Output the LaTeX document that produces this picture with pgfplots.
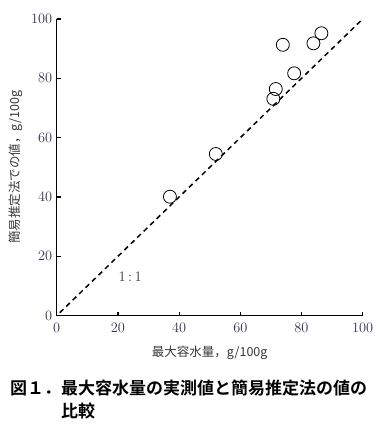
\documentclass[border=0pt]{standalone}
\usepackage{pgfplots}
\pgfplotsset{compat=1.18}
\usepackage{fontspec}
\newfontfamily\cjk{Noto Sans CJK JP}
\newfontfamily\cjkb{Noto Sans CJK JP}[BoldFont={* Bold}]
\definecolor{tickc}{rgb}{0.20,0.20,0.30}
\definecolor{labc}{rgb}{0.22,0.22,0.22}
\begin{document}
\begin{tikzpicture}
\begin{axis}[
  at={(0,0)}, anchor=origin,
  scale only axis, width=306bp, height=296.7bp,
  xmin=0, xmax=100, ymin=0, ymax=100,
  axis x line*=bottom, axis y line*=left,
  xtick={0,20,...,100}, ytick={0,20,...,100},
  tick align=inside, major tick length=4bp,
  axis line style={line width=1.5bp},
  tick style={line width=1.2bp, black},
  tick label style={font=\fontsize{14.5bp}{16bp}\selectfont, text=tickc},
  xticklabel style={yshift=-4bp},
  yticklabel style={xshift=-1bp},
  xlabel={\cjk 最大容水量，g/100g},
  ylabel={\cjk 簡易推定法での値，g/100g},
  label style={font=\fontsize{12.5bp}{14bp}\selectfont, text=labc},
  xlabel style={yshift=-7bp},
  ylabel style={yshift=2bp},
  clip=false,
]
\addplot[black, line width=1.5bp, dash pattern=on 5bp off 4bp] coordinates {(1,1) (99.5,99.5)};
\addplot[only marks, mark=o, mark size=6.5bp, mark options={line width=0.8bp, black, fill=white}] coordinates {
(37.0,40.1) (52.0,54.5) (70.8,73.1) (71.6,76.4) (77.6,81.7)
(73.9,91.3) (83.9,91.8) (86.5,95.2)
};
\node[font=\fontsize{14.5bp}{16bp}\selectfont, text=tickc] at (axis cs:24,13.2) {1\,:\,1};
\end{axis}
\node[anchor=west, font=\cjkb\bfseries\fontsize{17bp}{20bp}\selectfont, inner sep=0pt] at (-46.7bp,-72.5bp) {図１．最大容水量の実測値と簡易推定法の値の};
\node[anchor=west, font=\cjkb\bfseries\fontsize{17bp}{20bp}\selectfont, inner sep=0pt] at (4.3bp,-95.5bp) {比較};
\pgfresetboundingbox
\path[use as bounding box] (-56.7bp,-116.3bp) rectangle (327.3bp,315.7bp);
\end{tikzpicture}
\end{document}
